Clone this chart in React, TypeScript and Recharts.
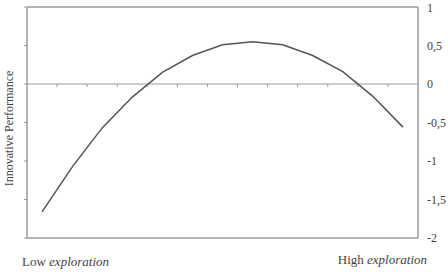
import React from 'react';
import { LineChart, Line, XAxis, YAxis, ReferenceLine } from 'recharts';

// position along the exploration axis (category centres) and predicted performance
const positions = [0.5, 1.5, 2.5, 3.5, 4.5, 5.5, 6.5, 7.5, 8.5, 9.5, 10.5, 11.5, 12.5];
const performance = [-1.66, -1.08, -0.57, -0.17, 0.15, 0.37, 0.51, 0.55, 0.51, 0.37, 0.16, -0.16, -0.56];
const yTicks = [-2, -1.5, -1, -0.5, 0, 0.5, 1];
const xBoundaries = [1, 2, 3, 4, 5, 6, 7, 8, 9, 10, 11, 12];
const endLabels = ['Low', 'High'];

const data = positions.map((x, i) => ({ x, perf: performance[i] }));

const FONT = '"Liberation Serif", "Times New Roman", serif';
const FRAME = '#9a9a9a';

function EndTick(props: any) {
  const { x, y, payload } = props;
  const first = payload.value === 0;
  return (
    <text
      x={first ? x - 5 : x + 9}
      y={first ? y + 28 : y + 26}
      textAnchor={first ? 'start' : 'end'}
      fontFamily={FONT}
      fontSize={13}
      fill="#444"
    >
      {first ? endLabels[0] : endLabels[1]}{' '}
      <tspan fontStyle="italic">exploration</tspan>
    </text>
  );
}

export default function App() {
  return (
    <div style={{ position: 'absolute', left: 0, top: 0, background: '#fff' }}>
      <LineChart width={448} height={272} data={data} margin={{ top: 7, right: 0, bottom: 0, left: 0 }}>
        <XAxis
          dataKey="x"
          type="number"
          domain={[0, 13]}
          ticks={[0, 13]}
          interval={0}
          height={34}
          tickSize={0}
          tickMargin={0}
          tickLine={false}
          axisLine={{ stroke: FRAME, strokeWidth: 1.5 }}
          tick={<EndTick />}
        />
        <YAxis
          yAxisId="left"
          domain={[-2, 1]}
          ticks={yTicks}
          width={27}
          tickSize={3}
          tick={() => <g />}
          tickLine={{ stroke: FRAME }}
          axisLine={{ stroke: FRAME, strokeWidth: 1.5 }}
          label={{
            value: 'Innovative Performance',
            angle: -90,
            position: 'insideLeft',
            offset: 9,
            dy: 6,
            style: { textAnchor: 'middle', fontFamily: FONT, fontSize: 12, fill: '#444' },
          }}
        />
        <YAxis
          yAxisId="right"
          orientation="right"
          domain={[-2, 1]}
          ticks={yTicks}
          width={30}
          tickSize={0}
          tickMargin={9}
          tickLine={false}
          axisLine={{ stroke: FRAME, strokeWidth: 1.5 }}
          tick={{ fontFamily: FONT, fontSize: 12, fill: '#444' }}
          tickFormatter={(v: number) => String(v).replace('.', ',')}
        />
        <ReferenceLine yAxisId="left" y={1} stroke={FRAME} strokeWidth={1.5} />
        <ReferenceLine yAxisId="left" y={0} stroke={FRAME} strokeWidth={1} />
        {xBoundaries.map((b) => (
          <ReferenceLine
            key={b}
            yAxisId="left"
            segment={[{ x: b, y: 0 }, { x: b, y: -0.04 }]}
            stroke={FRAME}
          />
        ))}
        {/* invisible copy so the right axis has a series bound to it */}
        <Line
          yAxisId="right"
          type="linear"
          dataKey="perf"
          stroke="none"
          dot={false}
          activeDot={false}
          isAnimationActive={false}
        />
        <Line
          yAxisId="left"
          type="linear"
          dataKey="perf"
          stroke="#555"
          strokeWidth={1.5}
          dot={false}
          isAnimationActive={false}
        />
      </LineChart>
    </div>
  );
}
